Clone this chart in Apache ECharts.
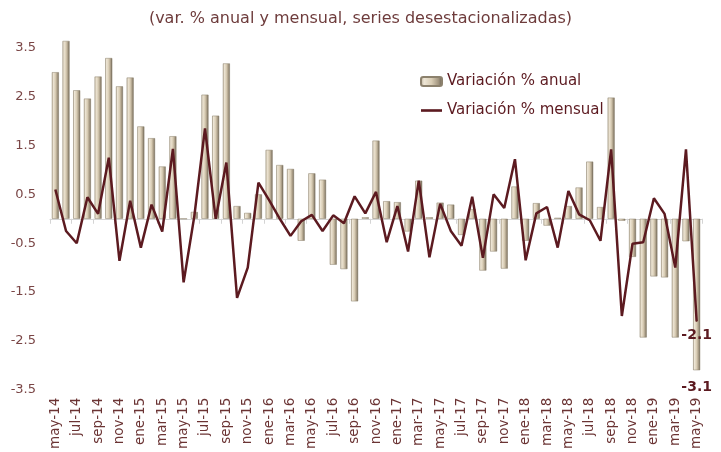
<!DOCTYPE html>
<html lang="es">
<head>
  <meta charset="UTF-8">
  <title>Variación anual y mensual</title>
  <script src="https://cdn.jsdelivr.net/npm/echarts@6/dist/echarts.min.js"></script>
  <style>
    html, body { margin: 0; padding: 0; background: #fff; }
    #main { width: 721px; height: 452px; }
  </style>
</head>
<body>
  <div id="main"></div>
  <script>
    // meses (may-14 a may-19)
    var meses = ['may-14','jun-14','jul-14','ago-14','sep-14','oct-14','nov-14','dic-14',
      'ene-15','feb-15','mar-15','abr-15','may-15','jun-15','jul-15','ago-15','sep-15','oct-15','nov-15','dic-15',
      'ene-16','feb-16','mar-16','abr-16','may-16','jun-16','jul-16','ago-16','sep-16','oct-16','nov-16','dic-16',
      'ene-17','feb-17','mar-17','abr-17','may-17','jun-17','jul-17','ago-17','sep-17','oct-17','nov-17','dic-17',
      'ene-18','feb-18','mar-18','abr-18','may-18','jun-18','jul-18','ago-18','sep-18','oct-18','nov-18','dic-18',
      'ene-19','feb-19','mar-19','abr-19','may-19'];

    var anual = [3.0, 3.64, 2.63, 2.46, 2.91, 3.29, 2.71, 2.89,
      1.89, 1.65, 1.07, 1.69, 0.0, 0.14, 2.54, 2.11, 3.18, 0.26, 0.12, 0.5,
      1.41, 1.10, 1.02, -0.45, 0.93, 0.80, -0.94, -1.03, -1.69, 0.03, 1.6, 0.36,
      0.34, -0.26, 0.78, 0.03, 0.33, 0.29, -0.33, 0.2, -1.06, -0.67, -1.02, 0.66,
      -0.45, 0.32, -0.14, 0.02, 0.26, 0.64, 1.17, 0.24, 2.48, -0.04, -0.78, -2.43,
      -1.18, -1.2, -2.43, -0.46, -3.1];

    var mensual = [0.6, -0.25, -0.5, 0.44, 0.1, 1.25, -0.86, 0.37,
      -0.59, 0.29, -0.26, 1.43, -1.3, 0.05, 1.85, 0.0, 1.15, -1.62, -1.0, 0.74,
      0.38, 0.0, -0.35, -0.05, 0.08, -0.25, 0.07, -0.09, 0.46, 0.11, 0.55, -0.48,
      0.26, -0.67, 0.78, -0.79, 0.31, -0.25, -0.55, 0.45, -0.8, 0.5, 0.22, 1.22,
      -0.85, 0.11, 0.24, -0.59, 0.57, 0.09, -0.03, -0.45, 1.42, -1.99, -0.51, -0.48,
      0.42, 0.1, -1.0, 1.42, -2.1];

    var granate = '#5c1a20';
    var textoEje = '#7a4646';
    var fuente = 'DejaVu Sans';

    // solo el último dato lleva etiqueta
    function conEtiquetaFinal(arr, dist, extra) {
      return arr.map(function (v, i) {
        if (i !== arr.length - 1) return v;
        var item = {
          value: v,
          label: {
            show: true, position: 'bottom', distance: dist,
            formatter: function (p) { return p.value.toFixed(1); },
            color: granate, fontWeight: 'bold', fontSize: 14, fontFamily: fuente
          }
        };
        if (extra) { for (var k in extra) item[k] = extra[k]; }
        return item;
      });
    }

    var myChart = echarts.init(document.getElementById('main'));

    var option = {
      animation: false,
      title: {
        text: '(var. % anual y mensual, series desestacionalizadas)',
        left: 'center',
        top: 6,
        textStyle: { color: '#6e3c3c', fontSize: 16, fontWeight: 'normal', fontFamily: fuente }
      },
      legend: {
        orient: 'vertical',
        left: 415,
        top: 69,
        itemGap: 14,
        itemWidth: 21,
        itemHeight: 9,
        textStyle: { color: granate, fontSize: 15, fontFamily: fuente },
        data: [
          { name: 'Variación % anual' },
          { name: 'Variación % mensual', icon: 'path://M0,0L24,0L24,3L0,3Z' }
        ]
      },
      grid: { left: 50, right: 19, top: 38, bottom: 62 },
      xAxis: [
        {
          type: 'category',
          data: meses,
          position: 'bottom',
          axisLine: { show: false, onZero: false },
          axisTick: { show: false },
          axisLabel: {
            interval: 1, rotate: 90, margin: 8,
            color: '#6b3434', fontSize: 13.5, fontFamily: fuente
          }
        },
        {
          type: 'category',
          data: meses,
          position: 'bottom',
          axisLine: { show: true, onZero: true, lineStyle: { color: '#d4d4d4', width: 1 } },
          axisTick: { show: true, interval: 1, length: 5, lineStyle: { color: '#d4d4d4' } },
          axisLabel: { show: false }
        }
      ],
      yAxis: {
        type: 'value',
        min: -3.5,
        max: 3.7,
        interval: 1,
        splitLine: { show: false },
        axisLine: { show: false },
        axisTick: { show: false },
        axisLabel: {
          showMaxLabel: false,
          margin: 14,
          color: textoEje, fontSize: 13, fontFamily: fuente,
          formatter: function (v) { return v.toFixed(1); }
        }
      },
      series: [
        {
          name: 'Variación % anual',
          type: 'bar',
          xAxisIndex: 0,
          barWidth: 7,
          itemStyle: {
            color: new echarts.graphic.LinearGradient(0, 0, 1, 0, [
              { offset: 0, color: '#b3a68e' },
              { offset: 0.18, color: '#eee6d6' },
              { offset: 0.5, color: '#d9cdb5' },
              { offset: 0.8, color: '#a39680' },
              { offset: 1, color: '#5f584b' }
            ]),
            borderColor: '#8c816d',
            borderWidth: 0.5
          },
          data: conEtiquetaFinal(anual, 10)
        },
        {
          name: 'Variación % mensual',
          type: 'line',
          xAxisIndex: 0,
          symbol: 'none',
          lineStyle: { color: granate, width: 2.5 },
          itemStyle: { color: granate },
          z: 3,
          data: conEtiquetaFinal(mensual, 6, { symbol: 'circle', symbolSize: 1 })
        }
      ]
    };

    myChart.setOption(option);
  </script>
</body>
</html>
